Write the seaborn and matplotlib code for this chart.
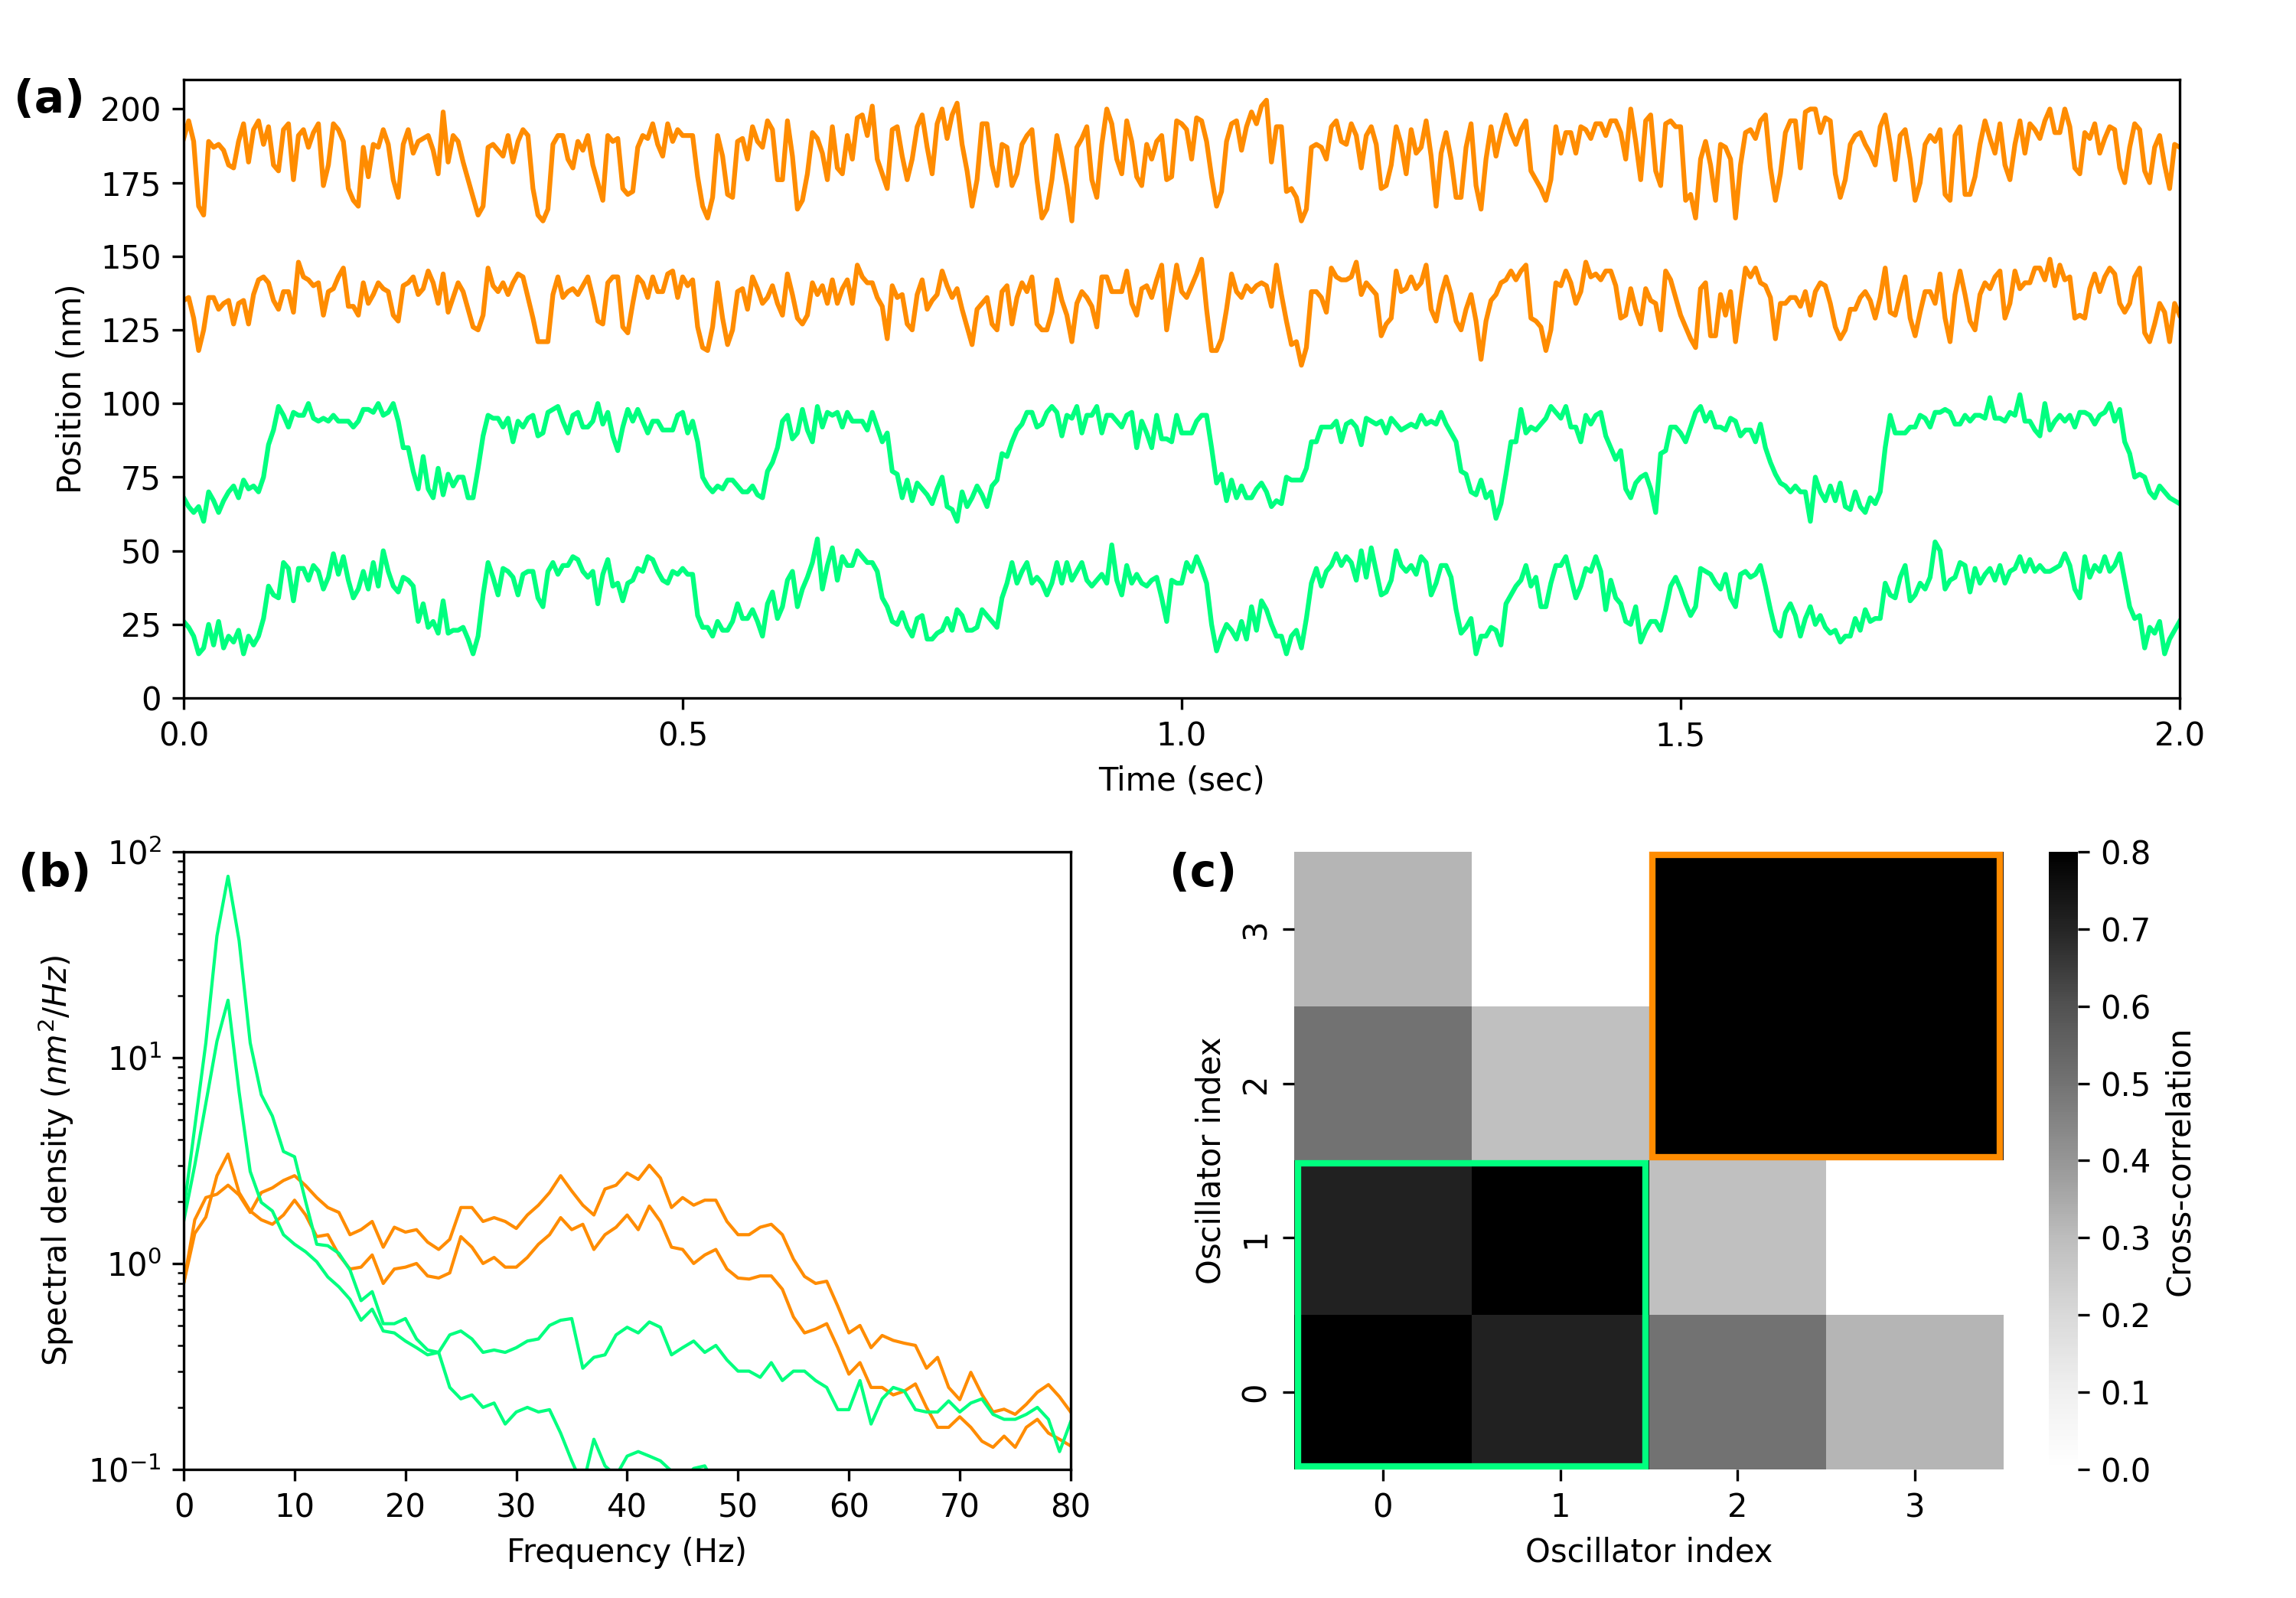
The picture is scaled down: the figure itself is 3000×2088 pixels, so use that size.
import numpy as np
import pandas as pd
import matplotlib
matplotlib.use("Agg")
import matplotlib.pyplot as plt
import seaborn as sns
from matplotlib.patches import Rectangle

ORANGE = "#ff8c00"
GREEN = "#00ff7f"

# ---------------- panel (a): positions (nm), sampled every 5 ms over 0-2 s ----------------
trace_orange_top = [
    190,196,189,167,164,189,187,188,186,181, 180,189,195,182,193,196,188,194,181,179,
    193,195,176,191,193,187,192,195,174,181, 195,193,189,173,169,167,187,177,188,187,
    193,188,176,170,188,193,185,189,190,191, 186,178,199,182,191,189,182,176,170,164,
    167,187,188,186,184,191,182,189,193,191, 173,164,162,166,188,191,191,183,180,189,
    186,191,181,175,169,191,189,190,173,171, 172,187,191,190,195,188,184,195,189,193,
    191,191,191,177,167,163,170,191,184,171, 170,189,190,183,194,189,187,196,193,176,
    176,196,184,166,169,178,192,190,185,176, 194,180,178,191,183,197,198,191,201,183,
    178,173,193,194,184,176,183,194,198,187, 178,195,200,190,198,202,188,179,167,176,
    195,195,181,174,188,187,174,178,188,191, 193,176,163,166,176,191,183,174,162,187,
    190,194,176,170,188,200,195,183,178,196, 189,177,174,188,183,189,191,176,177,196,
    195,193,183,197,196,189,177,167,172,189, 195,196,186,194,199,195,201,203,182,194,
    194,172,173,170,162,166,187,188,187,183, 194,196,189,188,195,191,180,191,194,188,
    173,174,181,194,188,178,193,185,187,196, 184,167,185,192,183,170,170,187,195,174,
    166,183,194,184,192,198,192,188,193,196, 179,176,173,169,176,194,185,192,192,185,
    194,193,190,195,195,191,196,196,192,183, 200,189,176,196,198,179,174,195,196,194,
    194,169,171,163,183,189,181,169,188,187, 183,163,181,192,193,190,196,198,180,169,
    178,192,196,196,180,199,200,200,192,197, 196,178,170,176,188,191,192,188,185,181,
    194,198,188,176,191,193,183,169,175,188, 191,189,193,171,169,191,194,171,171,177,
    188,196,190,185,195,181,176,188,196,185, 195,193,190,196,200,192,192,200,194,180,
    178,192,190,195,185,190,194,193,180,175, 187,195,193,179,175,187,191,181,173,188,
    187,
]

trace_orange_bottom = [
    135,136,129,118,125,136,136,132,134,135, 127,134,135,127,137,142,143,141,135,132,
    138,138,131,148,143,142,140,141,130,138, 139,143,146,133,133,130,141,134,137,141,
    139,138,130,128,140,141,143,137,139,145, 141,134,144,131,136,141,138,132,126,125,
    130,146,140,138,141,137,141,144,143,136, 129,121,121,121,137,143,136,138,139,137,
    140,143,136,128,127,141,143,143,126,124, 134,143,141,136,143,138,138,144,145,136,
    143,140,142,126,119,118,126,141,129,120, 125,138,139,132,143,139,134,136,140,134,
    130,144,137,129,127,130,141,137,140,134, 142,134,139,142,134,147,143,141,141,136,
    133,122,140,136,137,127,125,137,142,132, 135,137,145,140,136,139,132,126,120,132,
    134,136,127,125,138,140,127,136,141,138, 143,127,125,125,131,142,135,130,121,134,
    138,136,133,126,143,143,138,138,138,145, 134,130,139,140,136,142,147,125,136,147,
    138,136,140,144,149,132,118,118,122,132, 144,138,136,140,138,140,141,140,133,147,
    137,128,120,121,113,119,138,138,136,131, 146,143,142,142,143,148,137,141,139,137,
    123,127,129,145,138,139,143,139,141,147, 132,128,137,143,137,128,125,132,137,128,
    115,128,135,137,141,142,145,142,145,147, 129,128,126,118,125,141,140,145,141,134,
    138,148,143,144,142,145,145,140,129,130, 139,132,127,139,135,134,125,145,142,136,
    130,126,122,119,139,141,123,123,137,130, 138,121,134,146,143,146,141,140,136,122,
    134,134,136,136,133,138,130,138,141,140, 134,126,122,125,132,132,136,138,135,129,
    136,146,131,130,137,143,129,123,131,138, 138,134,144,129,121,137,145,137,128,125,
    137,141,139,143,145,129,134,145,139,141, 141,146,146,142,149,140,147,142,143,129,
    130,129,139,144,138,143,146,144,134,131, 134,143,146,124,121,127,134,131,121,134,
    130,
]

trace_green_top = [
    68,65,63,65,60,70,67,63,67,70, 72,68,74,71,72,70,75,86,91,99,
    96,92,97,96,96,100,95,94,95,94, 96,94,94,94,92,94,98,98,97,100,
    96,97,100,94,85,85,77,71,82,71, 68,78,69,76,72,75,75,68,68,78,
    89,96,95,95,92,95,87,94,92,95, 96,89,90,97,98,99,94,90,96,97,
    92,92,94,100,93,97,89,84,92,98, 94,98,94,90,94,94,91,91,91,96,
    97,90,94,87,75,72,70,72,71,74, 74,72,70,70,72,69,68,77,80,85,
    94,96,88,90,98,91,87,99,92,97, 96,97,92,97,94,94,94,91,97,92,
    87,90,77,76,68,74,67,73,71,69, 66,71,75,65,64,60,70,65,68,72,
    69,65,72,74,83,82,87,91,93,97, 97,92,93,97,99,97,89,96,95,99,
    90,96,96,99,90,96,96,94,92,96, 97,85,94,90,85,96,88,88,87,96,
    90,90,90,94,96,96,85,73,76,67, 74,68,72,68,68,71,73,70,65,67,
    66,75,74,74,74,78,87,87,92,92, 92,94,87,93,94,92,86,95,94,93,
    94,90,95,93,91,92,93,92,96,93, 94,93,97,93,90,87,77,76,70,69,
    74,68,70,61,66,76,87,87,98,90, 92,91,93,95,99,97,95,99,92,92,
    87,96,93,96,97,89,85,81,84,71, 68,73,75,76,71,63,83,84,92,92,
    90,87,92,97,99,94,97,92,92,91, 95,94,89,91,91,87,93,85,80,76,
    73,72,70,72,70,70,60,75,70,67, 72,67,73,65,64,70,65,63,68,66,
    70,85,96,90,90,90,92,92,96,95, 92,97,97,98,97,93,93,96,94,96,
    96,95,102,95,95,94,97,96,103,94, 94,91,89,100,91,94,96,94,96,92,
    97,97,96,93,96,97,100,94,98,87, 83,75,76,75,70,68,72,70,68,67,
    66,
]

trace_green_bottom = [
    26,24,21,15,17,25,18,26,17,21, 19,23,15,21,18,21,27,38,35,34,
    46,44,33,44,44,40,45,43,37,41, 49,42,48,40,34,37,43,37,46,38,
    50,43,38,36,41,40,38,26,32,24, 26,22,33,22,23,23,24,20,15,21,
    35,46,41,35,44,43,41,35,42,43, 43,34,31,43,46,42,45,45,48,47,
    43,41,43,32,42,47,38,39,33,39, 40,44,43,48,47,43,40,39,43,42,
    44,42,42,28,24,24,21,26,23,23, 26,32,27,27,30,26,21,32,36,27,
    31,40,43,31,37,41,46,54,37,45, 51,40,48,45,45,50,48,46,46,43,
    34,31,26,25,29,24,21,27,28,20, 20,22,23,27,23,30,28,23,23,24,
    30,28,26,24,34,39,46,39,43,46, 39,41,39,35,39,46,39,46,40,43,
    46,40,38,40,42,39,52,40,35,45, 39,42,39,38,40,41,34,26,40,39,
    39,46,43,48,44,39,25,16,21,25, 23,20,26,20,31,23,33,30,25,21,
    21,15,21,23,17,27,39,44,38,43, 45,49,45,48,46,40,50,41,51,43,
    35,36,40,50,45,43,45,42,48,46, 35,39,45,45,41,30,22,24,27,15,
    21,21,24,23,18,32,35,38,40,45, 38,41,31,31,39,45,45,48,41,34,
    38,44,43,48,43,30,40,34,32,26, 25,31,19,23,26,26,23,30,38,41,
    37,32,28,31,44,43,42,39,37,42, 34,31,42,43,41,42,45,38,30,23,
    21,29,32,28,21,27,31,25,28,24, 22,23,19,21,21,27,23,30,26,27,
    27,39,35,34,41,45,33,35,39,37, 41,53,50,37,40,41,46,45,36,44,
    39,42,44,40,45,39,43,44,48,43, 47,43,45,43,43,44,45,49,45,37,
    34,48,41,45,43,48,43,45,49,40, 31,27,28,17,24,22,26,15,20,23,
    26,
]

# ---------------- panel (b): spectral density, 1 Hz bins 0-80 Hz ----------------
freq_hz = list(range(81))
nan = float("nan")
psd_green_a = [
    1.8, 4.6, 11.8, 39, 76, 37, 11.8, 6.6, 5.2, 3.5,
    3.3, 2.0, 1.24, 1.22, 1.12, 0.93, 0.66, 0.73, 0.51, 0.51,
    0.54, 0.43, 0.38, 0.37, 0.25, 0.22, 0.23, 0.20, 0.21, 0.166,
    0.19, 0.20, 0.19, 0.195, 0.15, 0.11, 0.083, 0.14, 0.104, 0.093,
    0.116, 0.122, 0.116, 0.11, 0.098, 0.088, 0.101, 0.104, 0.083, nan,
    nan, nan, nan, nan, nan, nan, nan, nan, nan, nan,
    nan, nan, nan, nan, nan, nan, nan, nan, nan, nan,
    nan, nan, nan, nan, nan, nan, nan, nan, nan, nan,
    nan,
]
psd_green_b = [
    1.6, 3.0, 6.0, 12, 19, 6.8, 2.8, 1.98, 1.8, 1.38,
    1.24, 1.14, 1.02, 0.86, 0.77, 0.67, 0.53, 0.60, 0.47, 0.46,
    0.42, 0.39, 0.36, 0.37, 0.45, 0.47, 0.43, 0.37, 0.38, 0.37,
    0.39, 0.42, 0.43, 0.50, 0.53, 0.54, 0.31, 0.35, 0.36, 0.45,
    0.49, 0.46, 0.52, 0.49, 0.36, 0.39, 0.42, 0.37, 0.40, 0.34,
    0.30, 0.30, 0.28, 0.33, 0.27, 0.30, 0.30, 0.27, 0.25, 0.195,
    0.195, 0.27, 0.166, 0.22, 0.25, 0.24, 0.195, 0.19, 0.19, 0.215,
    0.19, 0.21, 0.22, 0.185, 0.175, 0.175, 0.185, 0.20, 0.175, 0.122,
    0.17,
]
psd_orange_a = [
    0.80, 1.63, 2.09, 2.17, 2.40, 2.15, 1.77, 2.21, 2.33, 2.53,
    2.67, 2.39, 2.09, 1.87, 1.77, 1.38, 1.46, 1.60, 1.20, 1.50,
    1.42, 1.46, 1.27, 1.17, 1.31, 1.87, 1.87, 1.60, 1.67, 1.60,
    1.48, 1.72, 1.92, 2.21, 2.67, 2.25, 1.92, 1.72, 2.30, 2.40,
    2.75, 2.56, 3.0, 2.6, 1.87, 2.09, 1.92, 2.03, 2.03, 1.60,
    1.38, 1.38, 1.50, 1.55, 1.38, 1.05, 0.865, 0.80, 0.82, 0.62,
    0.46, 0.50, 0.39, 0.447, 0.423, 0.41, 0.40, 0.31, 0.35, 0.25,
    0.218, 0.296, 0.231, 0.19, 0.196, 0.185, 0.207, 0.237, 0.258, 0.225,
    0.19,
]
psd_orange_b = [
    0.80, 1.40, 1.68, 2.67, 3.4, 2.21, 1.80, 1.63, 1.55, 1.72,
    2.03, 1.72, 1.35, 1.38, 1.10, 0.94, 0.96, 1.10, 0.80, 0.94,
    0.96, 1.0, 0.87, 0.85, 0.90, 1.35, 1.20, 1.0, 1.07, 0.96,
    0.96, 1.07, 1.24, 1.38, 1.67, 1.46, 1.55, 1.17, 1.38, 1.50,
    1.72, 1.46, 1.9, 1.6, 1.20, 1.17, 1.0, 1.10, 1.17, 0.94,
    0.85, 0.84, 0.87, 0.87, 0.75, 0.55, 0.46, 0.48, 0.51, 0.39,
    0.29, 0.33, 0.25, 0.25, 0.23, 0.24, 0.26, 0.20, 0.16, 0.16,
    0.18, 0.16, 0.137, 0.128, 0.145, 0.128, 0.16, 0.175, 0.15, 0.14,
    0.13,
]

# ---------------- panel (c): cross-correlation matrix ----------------
osc_labels = ["0", "1", "2", "3"]
corr_row0 = [1.00, 0.71, 0.50, 0.32]
corr_row1 = [0.71, 1.00, 0.29, 0.00]
corr_row2 = [0.50, 0.29, 1.00, 0.95]
corr_row3 = [0.32, 0.00, 0.95, 1.00]
cbar_ticks = [0.0, 0.1, 0.2, 0.3, 0.4, 0.5, 0.6, 0.7, 0.8]

# ---------------- figure ----------------
fig = plt.figure(figsize=(10, 6.96), dpi=300)

ax_a = fig.add_axes([0.08, 0.5632, 0.8693, 0.3870])
for vals, col in [(trace_orange_top, ORANGE), (trace_orange_bottom, ORANGE),
                  (trace_green_top, GREEN), (trace_green_bottom, GREEN)]:
    t = np.linspace(0, 2, len(vals))
    sns.lineplot(x=t, y=vals, color=col, linewidth=1.5, estimator=None, ax=ax_a)
ax_a.set_xlim(0, 2)
ax_a.set_ylim(0, 210)
ax_a.set_xticks([0, 0.5, 1.0, 1.5, 2.0])
ax_a.set_yticks([0, 25, 50, 75, 100, 125, 150, 175, 200])
ax_a.set_xlabel("Time (sec)")
ax_a.set_ylabel("Position (nm)")

ax_b = fig.add_axes([0.08, 0.0805, 0.3863, 0.3865])
ax_b.set_yscale("log")
for vals, col in [(psd_orange_a, ORANGE), (psd_orange_b, ORANGE),
                  (psd_green_a, GREEN), (psd_green_b, GREEN)]:
    sns.lineplot(x=freq_hz, y=vals, color=col, linewidth=1.0, estimator=None, ax=ax_b)
ax_b.set_xlim(0, 80)
ax_b.set_ylim(0.1, 100)
ax_b.set_xticks([0, 10, 20, 30, 40, 50, 60, 70, 80])
ax_b.set_xlabel("Frequency (Hz)")
ax_b.set_ylabel(r"Spectral density ($nm^2/Hz$)")

ax_c = fig.add_axes([0.5637, 0.0805, 0.3090, 0.3865])
cax = fig.add_axes([0.8923, 0.0805, 0.0127, 0.3865])
corr = pd.DataFrame([corr_row0, corr_row1, corr_row2, corr_row3],
                    index=osc_labels, columns=osc_labels)
sns.heatmap(corr, cmap="Greys", vmin=0, vmax=0.8, ax=ax_c, cbar_ax=cax,
            cbar_kws={"label": "Cross-correlation", "ticks": cbar_ticks})
ax_c.invert_yaxis()
ax_c.set_xlabel("Oscillator index")
ax_c.set_ylabel("Oscillator index")
ax_c.add_patch(Rectangle((0.02, 0.02), 1.96, 1.96, fill=False, edgecolor=GREEN,
                         linewidth=2, clip_on=False, zorder=5))
ax_c.add_patch(Rectangle((2.02, 2.02), 1.96, 1.96, fill=False, edgecolor=ORANGE,
                         linewidth=2, clip_on=False, zorder=5))

fig.text(0.006, 0.951, "(a)", fontsize=14, fontweight="bold", ha="left", va="top")
fig.text(0.008, 0.467, "(b)", fontsize=14, fontweight="bold", ha="left", va="top")
fig.text(0.5095, 0.467, "(c)", fontsize=14, fontweight="bold", ha="left", va="top")

fig.savefig("out.png", dpi=300)
